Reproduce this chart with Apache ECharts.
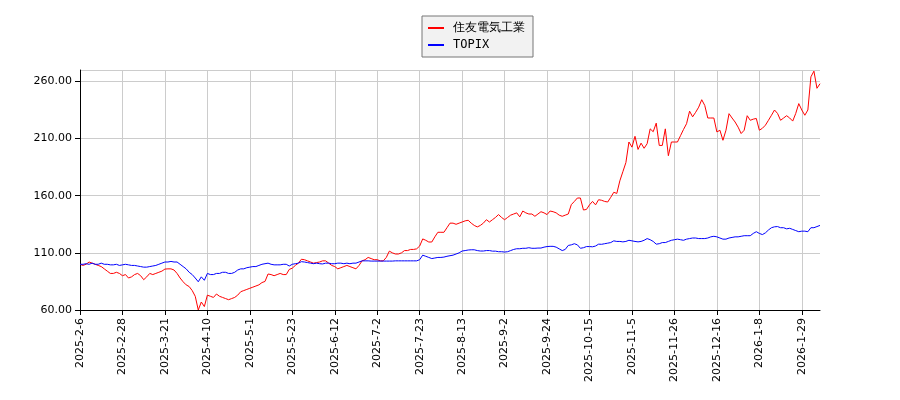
<!DOCTYPE html>
<html>
<head>
<meta charset="utf-8">
<script src="https://cdn.jsdelivr.net/npm/echarts@6/dist/echarts.min.js"></script>
<style>html,body{margin:0;padding:0;background:#fff}#chart{width:900px;height:400px}</style>
</head>
<body>
<div id="chart"></div>
<script>
// series names
const names = ['住友電気工業', 'TOPIX'];

// Tokyo market holidays in the range (weekday closures)
const holidays = ['2025-2-11','2025-2-24','2025-3-20','2025-4-29','2025-5-5','2025-5-6','2025-7-21',
  '2025-8-11','2025-9-15','2025-9-23','2025-10-13','2025-11-3','2025-11-24','2025-12-31',
  '2026-1-1','2026-1-2','2026-1-12'];

// relative price of 住友電気工業 (start = 100)
const sumitomo = [
  100,99,100,102,101,100,99,98,96,94,
  92,92,93,92,90,91,88,89,91,92,
  90,86.5,89,92,91,92,93,94,95.8,96,
  96,95,92,88,84.7,82,80.5,77,72,60,
  67,63,73,72,71,74,72,71,70,69,
  70,71,73,76,77,78,79,80,81,82,
  84,85,91.5,91,90,91,92,91,91,95.5,
  96.6,99,101,104.4,104,103,102,101,101.5,102,
  103,103,101,99,98,96,97,98,99,98,
  97,96,99,103,104,106,105,104,104,103,
  103,106,111.5,110,109,109,110,112,112,113,
  113,113.5,116,122.2,121,119.5,119.5,124,128,128,
  128,132,136,136,135,136,137,138,138.5,136,
  134,132.7,134,136,139,137,139,141,143.5,141,
  139,141,143,144,145,141.5,146.6,145,144,144,
  142,144,146,145,143.5,146.6,146,145,143,142,
  143,144,152.2,155,158,158,147.5,148,152,155,
  152,156.5,156,155,154.5,158.6,163,162,173,181,
  189,207,202.5,212,200.5,206,201.5,205.5,218.5,216,
  223.5,204,204,218.5,195,207,207,207,212.5,218,
  223,234,229,233,237.5,244,239,228,228,228,
  215.8,217.3,208.5,217.3,231.8,228,224.5,220,214.4,217.3,
  230,226,227,227.6,217.3,219,221.7,226,230.4,235,
  232,226,228,230,228,225.3,232,240.6,235,230.4,
  235,264,269,254,258
];

// relative TOPIX (start = 100)
const topix = [
  100,100,100.5,100,101,100,100,101,100,100,
  99.5,99.5,100,99,99.5,100,99.5,99,99,98.5,
  98,97.5,97.5,98,98.5,99,100,101,102,102,
  102.5,102,102,100,98,96,93,91,88,84.7,
  89,86,92,91,91,92,92,93,93,92,
  92,93,95,96,96,97,97.5,98,98,99,
  100,100.5,101,100,99.5,99.5,99.5,100,100,98.5,
  100,100.5,101,102.3,102,101.5,101,100.5,101,100.5,
  100.3,101,101,100.5,100.5,101,101,100.5,101,100.5,
  101,101,102,103,103,103,102.8,102.8,102.8,102.8,
  102.8,102.8,102.8,102.8,103,103,103,103,103,103,
  103,103,104,108,107,106,105,105.5,106,106,
  106.3,107,107.5,108,109,110,111.6,112,112.5,112.7,
  112.7,112,111.6,111.6,112,112,111.5,111.5,111,111,
  110.7,111,112,113,113.6,113.6,114,114,114.5,114,
  114,114.2,114.2,115,115.5,115.7,115.7,115,113.5,112,
  113,116.5,117,118,117,114,114.5,115.5,115.5,115.3,
  116,117.6,117.5,118,118.5,119,120.5,120,120,119.6,
  120,121,120.5,120,119.6,120,121,122.5,121.5,120,
  117.6,118,119,119,120,121,121.5,122,121.5,121,
  122,122.5,123,123,122.5,122.5,122.5,123,124,124.5,
  124,123,122,122,123,123.5,124,124,124.5,125,
  125,125,127,128.5,127,126,127.5,130,132,132.8,
  133,132,132,131,131.5,130.5,129.5,128.5,129,129,
  128.5,132,132,133,134
];

// trading-day categories starting 2025-2-6
const dates = [];
let d = new Date(2025, 1, 6);
while (dates.length < sumitomo.length) {
  const s = d.getFullYear() + '-' + (d.getMonth() + 1) + '-' + d.getDate();
  const wd = d.getDay();
  if (wd !== 0 && wd !== 6 && holidays.indexOf(s) < 0) dates.push(s);
  d.setDate(d.getDate() + 1);
}

const chart = echarts.init(document.getElementById('chart'));
const font = 'DejaVu Sans';
chart.setOption({
  animation: false,
  textStyle: { fontFamily: font },
  legend: {
    orient: 'vertical',
    top: 16, left: 422,
    itemWidth: 16, itemHeight: 2, itemGap: 5,
    padding: [6, 8, 6, 6],
    borderColor: '#777', borderWidth: 1, borderRadius: 0,
    backgroundColor: '#f2f2f2',
    icon: 'rect',
    textStyle: { fontFamily: 'DejaVu Sans Mono', fontSize: 12, color: '#000', padding: [0, 0, 0, 4] },
    data: names
  },
  grid: { left: 80, right: 80, top: 70, bottom: 90 },
  xAxis: {
    type: 'category',
    data: dates,
    boundaryGap: false,
    axisLine: { lineStyle: { color: '#000' } },
    axisTick: { show: true, interval: 13, lineStyle: { color: '#000' } },
    axisLabel: { interval: 13, rotate: 90, color: '#000', fontSize: 11, fontFamily: font },
    splitLine: { show: true, interval: 13, lineStyle: { color: '#ccc' } }
  },
  yAxis: {
    type: 'value',
    min: 60, max: 270, interval: 50,
    axisLine: { show: true, lineStyle: { color: '#000' } },
    axisTick: { show: true, lineStyle: { color: '#000' } },
    axisLabel: { color: '#000', fontSize: 11, fontFamily: font, showMaxLabel: false,
      formatter: v => v.toFixed(2) },
    splitLine: { lineStyle: { color: '#ccc' } }
  },
  series: [
    { name: names[0], type: 'line', data: sumitomo, symbol: 'none',
      lineStyle: { color: '#f00', width: 1 }, itemStyle: { color: '#f00' } },
    { name: names[1], type: 'line', data: topix, symbol: 'none',
      lineStyle: { color: '#00f', width: 1 }, itemStyle: { color: '#00f' } }
  ]
});
</script>
</body>
</html>
